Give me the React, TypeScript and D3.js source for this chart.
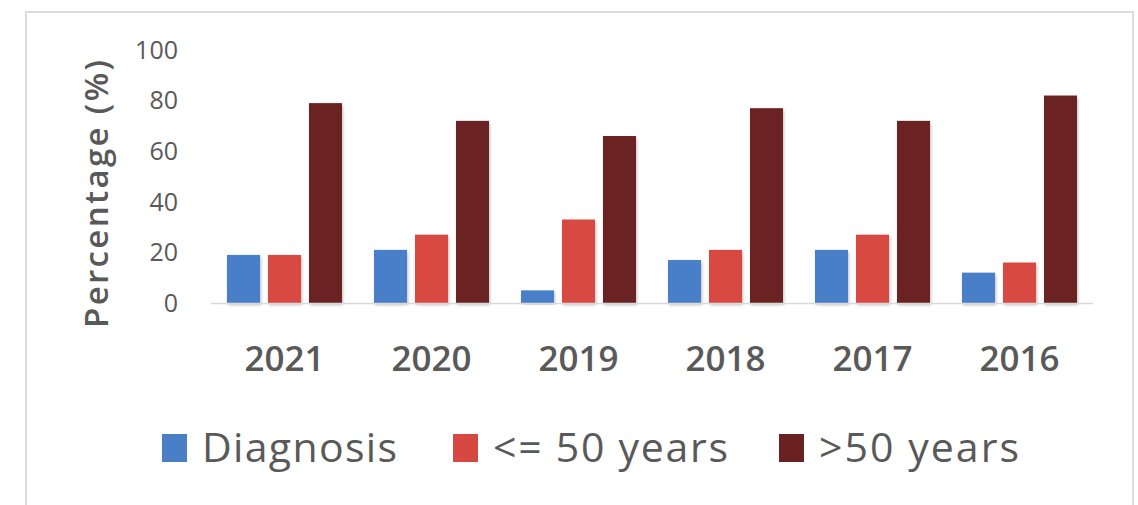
import React from "react";
import * as d3 from "d3";

const years = ["2021", "2020", "2019", "2018", "2017", "2016"];
const seriesNames = ["Diagnosis", "<= 50 years", ">50 years"];
const diagnosis = [19, 21, 5, 17, 21, 12];
const le50 = [19, 27, 33, 21, 27, 16];
const gt50 = [79, 72, 66, 77, 72, 82];
const yTicks = [0, 20, 40, 60, 80, 100];
const colors = ["#4a7fc8", "#d84843", "#6a2121"];
const legendTextLen = [195, 235, 200];

const W = 1138;
const H = 505;
const FONT = "'Open Sans', 'Liberation Sans', sans-serif";

export default function App() {
  const values = [diagnosis, le50, gt50];
  const x0 = d3.scaleBand<string>().domain(years).range([211, 1093]).padding(0);
  const x1 = d3
    .scaleBand<string>()
    .domain(seriesNames)
    .range([16, x0.bandwidth() - 16])
    .paddingInner(0.195)
    .paddingOuter(0);
  const y = d3.scaleLinear().domain([0, 100]).range([303, 50]);

  const legendX = [162, 453, 779];

  return (
    <svg
      width={W}
      height={H}
      style={{ position: "absolute", left: 0, top: 0, display: "block" }}
    >
      <defs>
        <filter id="sh" x="-20%" y="-5%" width="140%" height="115%">
          <feDropShadow dx="1" dy="2" stdDeviation="1.5" floodColor="#000" floodOpacity="0.25" />
        </filter>
      </defs>
      <rect x={0} y={0} width={W} height={H} fill="#fff" />
      <rect x={26} y={12} width={1107} height={520} fill="#fff" stroke="#dcdcdc" strokeWidth={2} />

      {/* Y tick labels */}
      {yTicks.map((t) => (
        <text
          key={t}
          x={178}
          y={y(t)}
          dy="0.35em"
          textAnchor="end"
          fontFamily={FONT}
          fontSize={25}
          fontWeight={500}
          fill="#595959"
        >
          {t}
        </text>
      ))}

      {/* Y axis title */}
      <text
        transform={`translate(108,194) rotate(-90)`}
        textAnchor="middle"
        fontFamily={FONT}
        fontSize={33}
        fontWeight={600}
        fill="#595959"
        textLength={268}
        lengthAdjust="spacing"
      >
        Percentage (%)
      </text>

      {/* Bars */}
      {years.map((yr, i) => (
        <g key={yr} transform={`translate(${x0(yr)},0)`}>
          {seriesNames.map((s, j) => (
            <rect
              key={s}
              x={x1(s)}
              y={y(values[j][i])}
              width={x1.bandwidth()}
              height={y(0) - y(values[j][i])}
              fill={colors[j]}
              filter="url(#sh)"
            />
          ))}
        </g>
      ))}

      {/* X axis line */}
      <line x1={211} x2={1093} y1={y(0) + 0.5} y2={y(0) + 0.5} stroke="#d9d9d9" strokeWidth={1.5} />

      {/* X labels */}
      {years.map((yr) => (
        <text
          key={yr}
          x={(x0(yr) as number) + x0.bandwidth() / 2}
          y={371}
          textAnchor="middle"
          fontFamily={FONT}
          fontSize={35}
          fontWeight={600}
          fill="#595959"
        >
          {yr}
        </text>
      ))}

      {/* Legend */}
      {seriesNames.map((s, j) => (
        <g key={s}>
          <rect x={legendX[j]} y={434} width={25} height={28} fill={colors[j]} />
          <text
            x={legendX[j] + 40}
            y={462}
            fontFamily={FONT}
            fontSize={41}
            fontWeight={500}
            fill="#595959"
            textLength={legendTextLen[j]}
            lengthAdjust="spacing"
          >
            {s}
          </text>
        </g>
      ))}
    </svg>
  );
}
